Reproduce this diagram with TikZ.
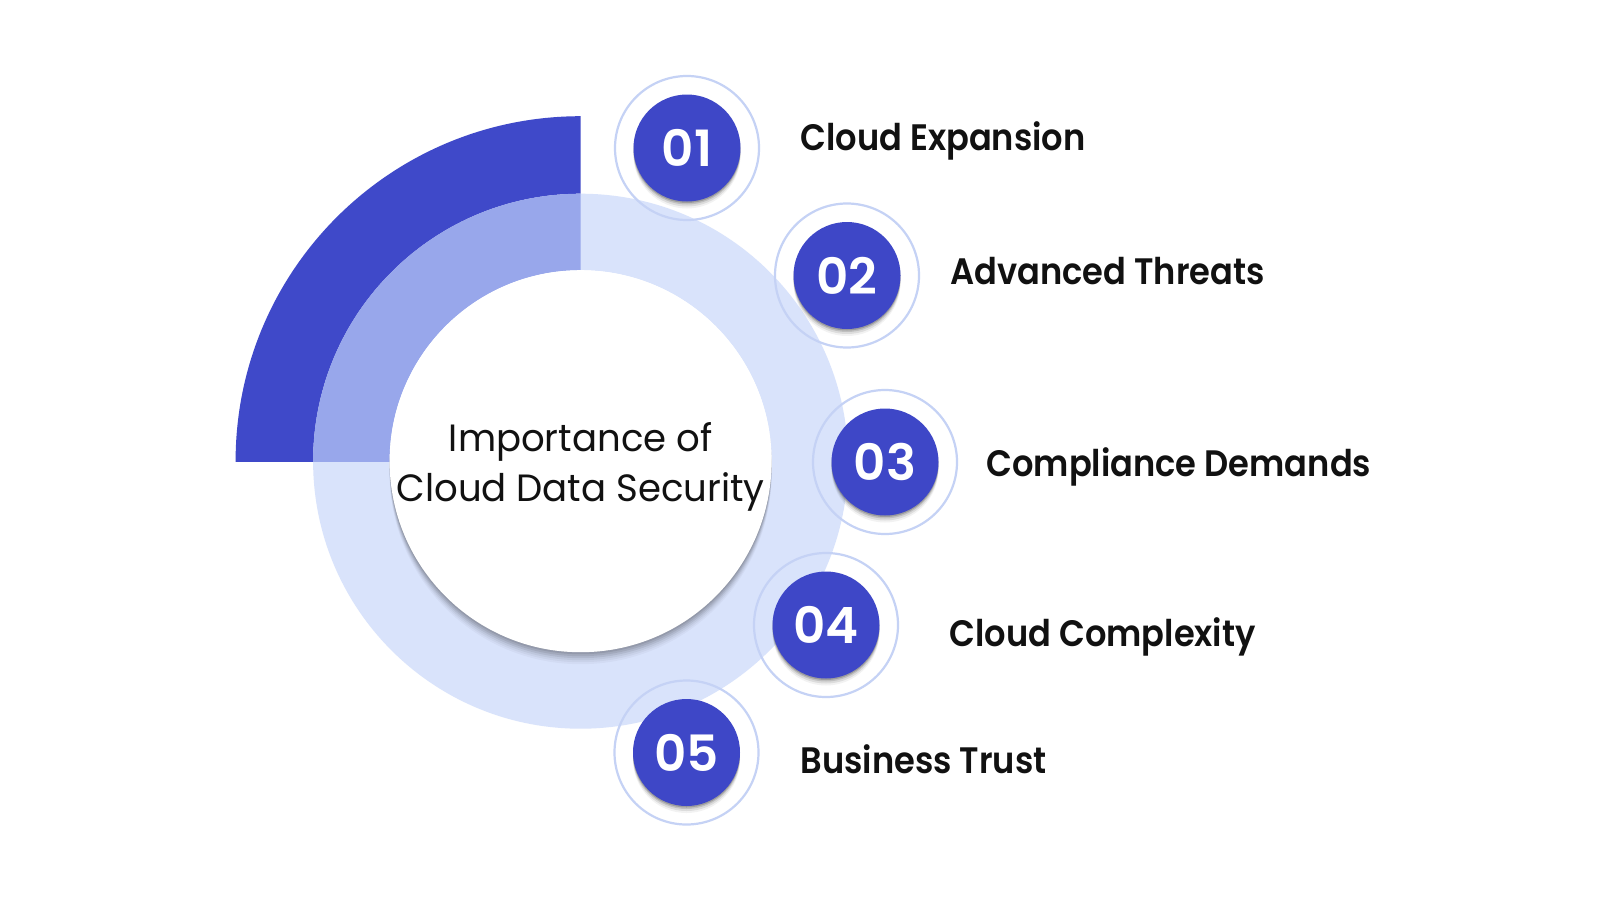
\documentclass[tikz,border=0pt]{standalone}
\usepackage{fontspec}
\usetikzlibrary{calc}
\setmainfont{Poppins}[FakeStretch=0.975]
\newfontfamily\labfont{Poppins SemiBold}[FakeStretch=0.915]
\newfontfamily\numfont{Poppins SemiBold}
\definecolor{darkband}{RGB}{63,73,201}
\definecolor{midband}{RGB}{152,167,235}
\definecolor{lightband}{RGB}{217,227,251}
\definecolor{numblue}{RGB}{62,71,199}
\definecolor{thinring}{RGB}{197,210,245}
\definecolor{labtext}{RGB}{17,17,17}
\tikzset{
  numcircle/.style={circle, fill=numblue, minimum size=53.5pt, inner sep=0pt, text=white,
    font=\numfont\fontsize{25}{25}\selectfont},
  labeltext/.style={anchor=base west, inner sep=0pt, text=labtext,
    font=\labfont\fontsize{18.4}{22}\selectfont},
  centertext/.style={anchor=base, inner sep=0pt, text=labtext,
    font=\fontsize{19}{25}\selectfont},
}
\begin{document}
\begin{tikzpicture}[x=0.5pt,y=-0.5pt]
\useasboundingbox (0,0) rectangle (1600,900);
\fill[white] (0,0) rectangle (1600,900);
\coordinate (c) at (580.6,461.2);
% light full annulus
\fill[lightband, even odd rule] (c) circle (267.5) (c) circle (191);
% top-left quadrant bands
\begin{scope}
  \clip (c) rectangle ++(-420,-420);
  \fill[darkband, even odd rule] (c) circle (345) (c) circle (267.5);
  \fill[midband, even odd rule] (c) circle (267.5) (c) circle (191);
\end{scope}
% white centre circle with soft shadow
\foreach \d/\o in {12/0.03,10/0.04,8/0.05,6/0.07,4/0.08,2/0.09}
  \fill[black, opacity=\o] ($(c)+(0,\d)$) circle (191);
\fill[white] (c) circle (191);
\node[centertext] (t1) at (580.6,451) {Importance of};
\node[centertext] (t2) at (580.6,501) {Cloud Data Security};
% numbered circles
\foreach \n/\x/\y in {1/687/148,2/847/275.5,3/885/462,4/826/625,5/686.5/752.5}{
  \draw[thinring, line width=1.1pt] (\x,\y) circle (72);
  \foreach \d/\o in {7/0.05,5/0.09,3/0.13,1.5/0.18}
    \fill[black, opacity=\o] (\x,\y+\d) circle (53.5);
  \node[numcircle] (n\n) at (\x,\y) {0\n};
}
\node[labeltext] (l1) at (800,150.5) {Cloud Expansion};
\node[labeltext] (l2) at (950,284) {Advanced Threats};
\node[labeltext] (l3) at (986,476) {Compliance Demands};
\node[labeltext] (l4) at (949,646) {Cloud Complexity};
\node[labeltext] (l5) at (800,773) {Business Trust};
\end{tikzpicture}
\end{document}
